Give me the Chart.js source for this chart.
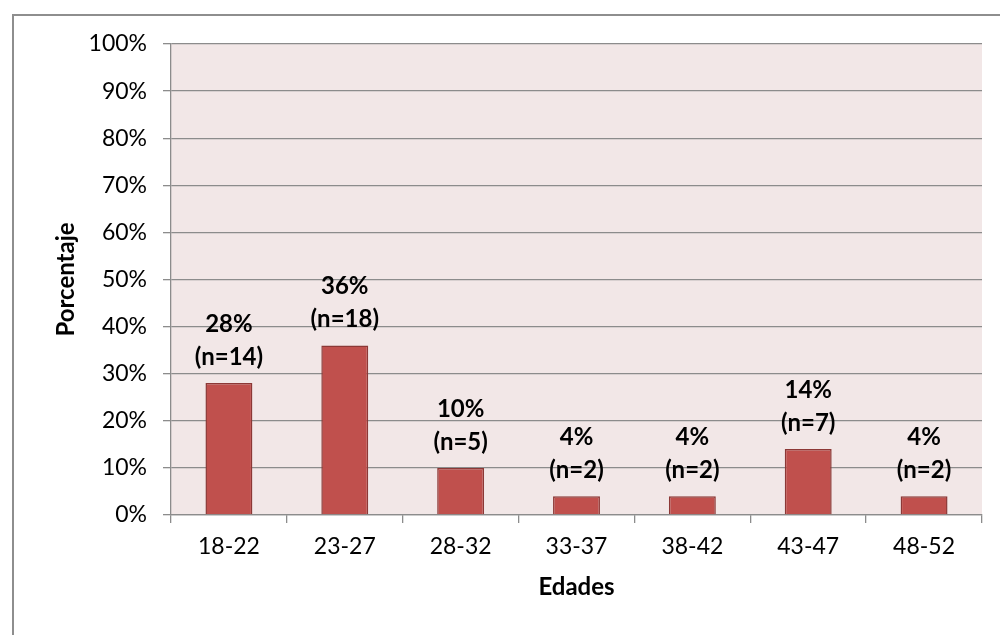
<!DOCTYPE html>
<html>
<head>
<meta charset="utf-8">
<script src="https://cdn.jsdelivr.net/npm/chart.js@4/dist/chart.umd.min.js"></script>
<style>
  html, body { margin: 0; padding: 0; background: #ffffff; }
  #wrap { position: relative; width: 1000px; height: 635px; }
  canvas { display: block; }
</style>
</head>
<body>
<div id="wrap"><canvas id="c" width="1000" height="635"></canvas></div>
<script>
// Age groups and share of respondents (percent) with counts
const categories = ['18-22', '23-27', '28-32', '33-37', '38-42', '43-47', '48-52'];
const percentages = [28, 36, 10, 4, 4, 14, 4];
const counts = [14, 18, 5, 2, 2, 7, 2];
const yTicks = [0, 10, 20, 30, 40, 50, 60, 70, 80, 90, 100];
const xTitle = 'Edades';
const yTitle = 'Porcentaje';

const FONT = 'Lato, "Open Sans", "Liberation Sans", sans-serif';
const GRID = '#8c8c8c';

// Frame lines, plot background, axis titles and value labels
const decor = {
  id: 'decor',
  beforeDraw(chart) {
    const { ctx, chartArea: a } = chart;
    ctx.save();
    ctx.fillStyle = '#ffffff';
    ctx.fillRect(0, 0, chart.width, chart.height);
    ctx.strokeStyle = '#8e8e8e';
    ctx.lineWidth = 2;
    ctx.beginPath();
    ctx.moveTo(13, chart.height);
    ctx.lineTo(13, 15);
    ctx.lineTo(chart.width, 15);
    ctx.stroke();
    ctx.fillStyle = '#f2e7e7';
    ctx.fillRect(a.left, a.top, a.right - a.left, a.bottom - a.top);
    ctx.restore();
  },
  afterDraw(chart) {
    const { ctx, chartArea: a } = chart;
    ctx.save();
    ctx.fillStyle = '#000000';
    ctx.font = 'bold 24px ' + FONT;
    ctx.textAlign = 'center';
    ctx.textBaseline = 'middle';
    ctx.fillText(xTitle, (a.left + a.right) / 2, 587);
    ctx.translate(66, (a.top + a.bottom) / 2);
    ctx.rotate(-Math.PI / 2);
    ctx.fillText(yTitle, 0, 0);
    ctx.restore();
  },
  afterDatasetsDraw(chart) {
    const { ctx } = chart;
    const meta = chart.getDatasetMeta(0);
    ctx.save();
    ctx.fillStyle = '#000000';
    ctx.font = 'bold 24px ' + FONT;
    ctx.textAlign = 'center';
    ctx.textBaseline = 'middle';
    meta.data.forEach((bar, i) => {
      const top = bar.y;
      ctx.fillText(percentages[i] + '%', bar.x, top - 59);
      ctx.fillText('(n=' + counts[i] + ')', bar.x, top - 26);
    });
    ctx.restore();
  }
};

new Chart(document.getElementById('c'), {
  type: 'bar',
  data: {
    labels: categories,
    datasets: [{
      data: percentages,
      backgroundColor: '#c0504d',
      borderColor: '#8c3836',
      borderWidth: 1.5,
      categoryPercentage: 0.81,
      barPercentage: 0.5
    }]
  },
  options: {
    responsive: false,
    animation: false,
    devicePixelRatio: 1,
    layout: { padding: { top: 44, right: 18, bottom: 0, left: 0 } },
    plugins: { legend: { display: false }, tooltip: { enabled: false } },
    scales: {
      x: {
        offset: true,
        grid: {
          offset: true,
          drawOnChartArea: false,
          drawTicks: true,
          tickLength: 8,
          color: GRID,
          lineWidth: 1.3
        },
        border: { color: GRID, width: 1.3 },
        ticks: { color: '#000000', font: { family: FONT, size: 23 }, padding: 10 },
        afterFit(scale) { scale.height = 120; }
      },
      y: {
        min: 0,
        max: 100,
        afterBuildTicks(scale) { scale.ticks = yTicks.map(v => ({ value: v })); },
        grid: { color: GRID, lineWidth: 1.3, tickLength: 8 },
        border: { color: GRID, width: 1.3 },
        ticks: {
          color: '#000000',
          font: { family: FONT, size: 23 },
          padding: 16,
          callback: v => v + '%'
        },
        afterFit(scale) { scale.width = 171; }
      }
    }
  },
  plugins: [decor]
});
</script>
</body>
</html>
